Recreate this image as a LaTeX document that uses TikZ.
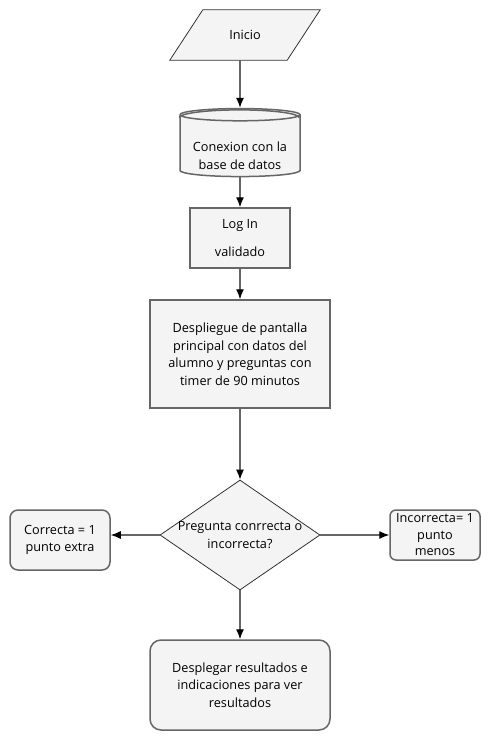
\documentclass[tikz,border=0pt]{standalone}
\usepackage{fontspec}
\setmainfont{Open Sans}
\usetikzlibrary{shapes.geometric,arrows.meta,backgrounds}
\definecolor{cajafondo}{HTML}{F4F4F4}
\definecolor{cajaborde}{HTML}{666666}
\definecolor{rombo}{HTML}{333333}

\begin{document}
\begin{tikzpicture}[x=1pt,y=-1pt,
  texto/.style={align=center,font=\fontsize{12.7}{17.5}\selectfont,inner sep=0pt},
  caja/.style={texto,draw=cajaborde,line width=1.5pt,fill=cajafondo},
  redonda/.style={caja,rounded corners=8pt},
  flecha/.style={draw=cajaborde,line width=1.2pt,-{Latex[black,length=10pt,width=8pt]}}]
  \useasboundingbox (0,0) rectangle (490,744);
  % nodos
  \node[texto,minimum width=117pt,minimum height=50pt] (inicio) at (245,35) {Inicio};
  \begin{scope}[on background layer]
    \draw[rombo,line width=0.8pt,fill=cajafondo] ([xshift=16.5pt]inicio.north west)
      -- ([xshift=16.5pt]inicio.north east) -- ([xshift=-16.5pt]inicio.south east)
      -- ([xshift=-16.5pt]inicio.south west) -- cycle;
  \end{scope}
  \node[caja,cylinder,shape border rotate=90,aspect=0.13,minimum width=120pt,minimum height=68pt]
    (bd) at (240,146)
    {\raisebox{-14pt}[0pt][0pt]{\begin{tabular}{@{}c@{}}Conexion con la\\base de datos\end{tabular}}};
  \node[caja,font=\fontsize{12.7}{28}\selectfont,minimum width=100pt,minimum height=60pt]
    (login) at (240,238) {Log In\\validado};
  \node[caja,minimum width=180pt,minimum height=108pt] (despliegue) at (240,354)
    {Despliegue de pantalla\\principal con datos del\\alumno y preguntas con\\timer de 90 minutos};
  \node[texto,draw=rombo,line width=0.8pt,fill=cajafondo,diamond,aspect=1.4545,inner sep=-5pt,
    minimum width=160pt,minimum height=110pt] (pregunta) at (240,535)
    {Pregunta conrrecta o\\incorrecta?};
  \node[redonda,minimum width=100pt,minimum height=60pt] (correcta) at (60,540)
    {Correcta = 1\\punto extra};
  \node[redonda,rounded corners=6pt,minimum width=90pt,minimum height=50pt,
    font=\fontsize{12.7}{16.5}\selectfont] (incorrecta) at (435,535)
    {Incorrecta= 1\\punto\\menos};
  \node[redonda,rounded corners=11pt,minimum width=180pt,minimum height=90pt] (resultados)
    at (240,685) {Desplegar resultados e\\indicaciones para ver\\resultados};
  % linea doble de la base de datos
  \draw[cajaborde,line width=1.5pt] ([yshift=-3pt]bd.before top) arc[start angle=180,end angle=0,
    x radius=60pt,y radius=7.8pt];
  % conectores
  \draw[flecha] (inicio.south -| bd.north) -- (bd.north);
  \draw[flecha] (bd.south) -- (login.north);
  \draw[flecha] (login.south) -- (despliegue.north);
  \draw[flecha] (despliegue.south) -- (pregunta.north);
  \draw[flecha] (pregunta.west) -- (pregunta.west -| correcta.east);
  \draw[flecha] (pregunta.east) -- (incorrecta.west);
  \draw[flecha] (pregunta.south) -- (resultados.north);
\end{tikzpicture}
\end{document}
